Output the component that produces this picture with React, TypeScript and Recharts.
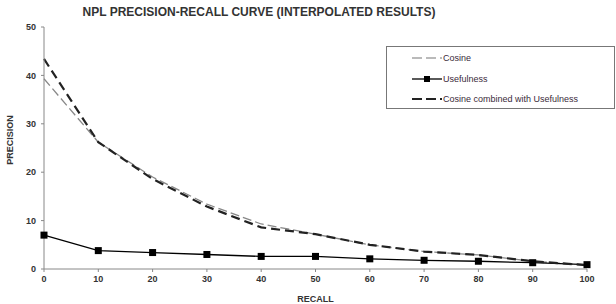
import React from "react";
import { LineChart, Line, XAxis, YAxis } from "recharts";

const recall = [0, 10, 20, 30, 40, 50, 60, 70, 80, 90, 100];
const cosine = [39.3, 26.2, 19.0, 13.4, 9.3, 7.2, 5.0, 3.6, 2.9, 1.6, 0.8];
const usefulness = [7.0, 3.8, 3.4, 3.0, 2.6, 2.6, 2.1, 1.8, 1.6, 1.3, 0.9];
const combined = [43.4, 26.2, 18.6, 12.9, 8.6, 7.2, 5.0, 3.6, 2.9, 1.6, 0.8];
const xTicks = [0, 10, 20, 30, 40, 50, 60, 70, 80, 90, 100];
const yTicks = [0, 10, 20, 30, 40, 50];
const seriesNames = ["Cosine", "Usefulness", "Cosine combined with Usefulness"];

const data = recall.map((r, i) => ({
  recall: r,
  cosine: cosine[i],
  usefulness: usefulness[i],
  combined: combined[i],
}));

const SquareDot = (props: any) => {
  const { cx, cy, index } = props;
  if (cx == null || cy == null) return <g key={index} />;
  return <rect key={index} x={cx - 3.5} y={cy - 3.5} width={7} height={7} fill="#000" />;
};

const LegendBox = () => (
  <div
    style={{
      position: "absolute",
      left: 386,
      top: 46,
      width: 229,
      height: 63,
      border: "1px solid #777",
      background: "#fff",
      fontFamily: "'Liberation Sans', Arial, sans-serif",
      fontSize: 9,
      color: "#3a2a3a",
      boxSizing: "border-box",
      paddingTop: 1,
    }}
  >
    {[0, 1, 2].map((i) => (
      <div key={i} style={{ display: "flex", alignItems: "center", height: 20.5 }}>
        <svg width={55} height={10}>
          {i === 0 && (
            <line x1={25} y1={5} x2={55} y2={5} stroke="#777" strokeWidth={1.2} strokeDasharray="10 4" />
          )}
          {i === 1 && (
            <g>
              <line x1={25} y1={5} x2={55} y2={5} stroke="#000" strokeWidth={1.3} />
              <rect x={37} y={2} width={6} height={6} fill="#000" />
            </g>
          )}
          {i === 2 && (
            <line x1={25} y1={5} x2={55} y2={5} stroke="#222" strokeWidth={2} strokeDasharray="10 4" />
          )}
        </svg>
        <span style={{ marginLeft: 1 }}>{seriesNames[i]}</span>
      </div>
    ))}
  </div>
);

const tickStyle = {
  fontFamily: "'Liberation Sans', Arial, sans-serif",
  fontSize: 9,
  fontWeight: 700,
  fill: "#333",
};

export default function App() {
  return (
    <div style={{ position: "absolute", left: 0, top: 0, width: 616, height: 304, background: "#fff" }}>
      <LineChart
        width={616}
        height={304}
        data={data}
        margin={{ top: 27, right: 29, bottom: 14, left: 14 }}
      >
        <XAxis
          dataKey="recall"
          type="number"
          domain={[0, 100]}
          ticks={xTicks}
          interval={0}
          height={21}
          stroke="#888"
          tick={tickStyle}
          tickSize={3}
          tickMargin={4}
          label={{
            value: "RECALL",
            position: "insideBottom",
            offset: -12,
            style: { ...tickStyle, textAnchor: "middle" },
          }}
        />
        <YAxis
          type="number"
          domain={[0, 50]}
          ticks={yTicks}
          interval={0}
          width={30}
          stroke="#888"
          tick={tickStyle}
          tickSize={3}
          tickMargin={5}
          label={{
            value: "PRECISION",
            angle: -90,
            position: "insideLeft",
            offset: -4,
            dy: -8,
            style: { ...tickStyle, textAnchor: "middle" },
          }}
        />
        <Line
          dataKey="cosine"
          name={seriesNames[0]}
          stroke="#888"
          strokeWidth={1.3}
          strokeDasharray="9 4"
          dot={false}
          isAnimationActive={false}
        />
        <Line
          dataKey="usefulness"
          name={seriesNames[1]}
          stroke="#000"
          strokeWidth={1.3}
          dot={<SquareDot />}
          isAnimationActive={false}
        />
        <Line
          dataKey="combined"
          name={seriesNames[2]}
          stroke="#222"
          strokeWidth={2.2}
          strokeDasharray="9 5"
          dot={false}
          isAnimationActive={false}
        />
      </LineChart>
      <div
        style={{
          position: "absolute",
          left: 0,
          top: 5,
          width: 518,
          textAlign: "center",
          fontFamily: "'Liberation Sans', Arial, sans-serif",
          fontSize: 12,
          fontWeight: 700,
          color: "#333",
          whiteSpace: "nowrap",
        }}
      >
        NPL PRECISION-RECALL CURVE (INTERPOLATED RESULTS)
      </div>
      <LegendBox />
    </div>
  );
}
